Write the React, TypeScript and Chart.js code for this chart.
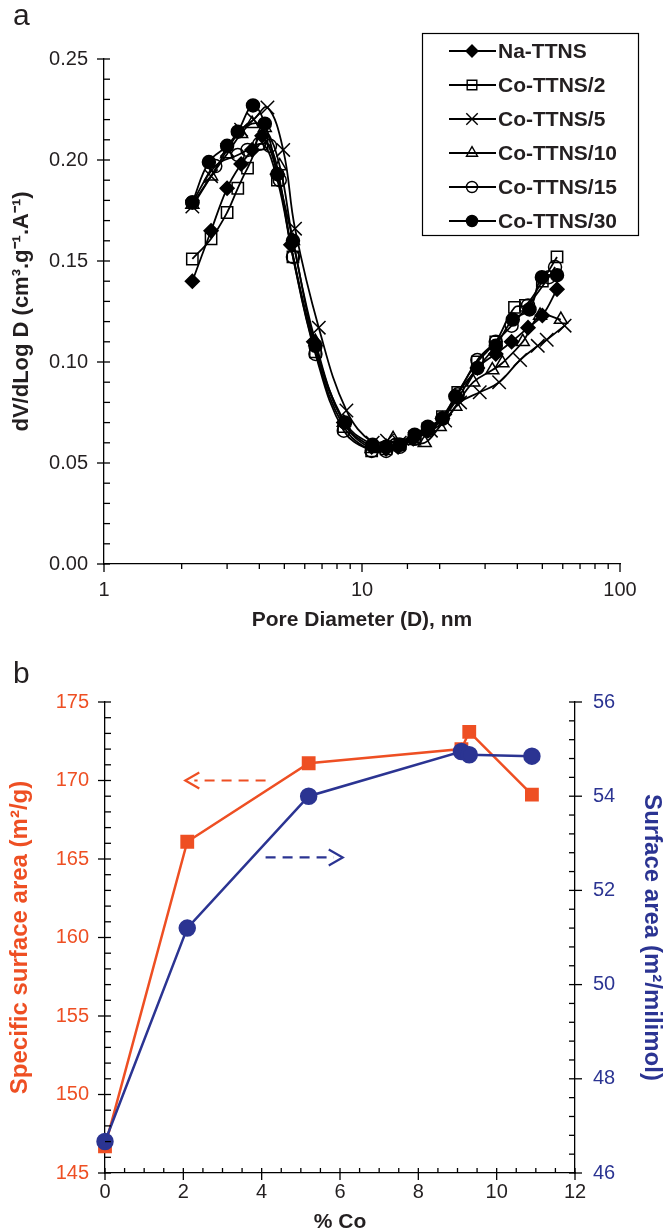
import React, { useEffect, useRef } from 'react';
import { Chart, registerables } from 'chart.js';
Chart.register(...registerables);

const FONT = '"Liberation Sans", Arial, Helvetica, sans-serif';
const INK = '#231f20';
const ORANGE = '#ee4f23';
const BLUE = '#2b3492';

// ---------- Panel a : pore size distribution ----------
const seriesNames = ['Na-TTNS', 'Co-TTNS/2', 'Co-TTNS/5', 'Co-TTNS/10', 'Co-TTNS/15', 'Co-TTNS/30'];

const naTTNS_D = [2.2, 2.6, 3.0, 3.4, 3.75, 4.1, 4.7, 5.3, 6.5, 8.5, 10.9, 12.4, 13.8, 15.8, 18.0, 20.5, 23.5, 28, 33, 38, 44, 50, 57];
const naTTNS_V = [0.140, 0.165, 0.186, 0.198, 0.205, 0.212, 0.193, 0.158, 0.110, 0.070, 0.058, 0.057, 0.058, 0.062, 0.066, 0.072, 0.082, 0.097, 0.104, 0.110, 0.117, 0.123, 0.136];

const co2_D = [2.2, 2.6, 3.0, 3.3, 3.6, 4.1, 4.7, 5.4, 6.6, 8.5, 10.9, 12.4, 14, 16, 18, 20.5, 23.5, 28, 33, 39, 43, 50, 57];
const co2_V = [0.151, 0.161, 0.174, 0.186, 0.196, 0.208, 0.190, 0.152, 0.105, 0.068, 0.056, 0.057, 0.059, 0.063, 0.067, 0.073, 0.085, 0.100, 0.110, 0.127, 0.128, 0.140, 0.152];

const co5_D = [2.2, 2.6, 3.0, 3.4, 3.8, 4.3, 4.95, 5.5, 6.8, 8.7, 11.0, 12.5, 14, 16, 18.5, 21, 24, 28.6, 34, 41, 48, 52, 61];
const co5_V = [0.177, 0.192, 0.205, 0.215, 0.220, 0.226, 0.205, 0.166, 0.117, 0.076, 0.060, 0.061, 0.060, 0.062, 0.066, 0.071, 0.080, 0.085, 0.090, 0.101, 0.108, 0.111, 0.118];

const co10_D = [2.2, 2.6, 3.0, 3.4, 3.75, 4.2, 4.8, 5.4, 6.6, 8.5, 10.9, 12.4, 13.2, 15.7, 17.5, 20, 23, 27, 32, 35, 42, 49, 59];
const co10_V = [0.178, 0.192, 0.203, 0.213, 0.218, 0.216, 0.197, 0.160, 0.110, 0.070, 0.057, 0.058, 0.062, 0.061, 0.060, 0.068, 0.078, 0.090, 0.096, 0.0995, 0.110, 0.123, 0.121];

const co15_D = [2.2, 2.7, 3.3, 3.6, 4.0, 4.4, 4.8, 5.4, 6.6, 8.5, 10.9, 12.4, 14, 16, 18, 20.5, 23.5, 28, 33, 38, 44, 53, 56];
const co15_V = [0.179, 0.197, 0.2025, 0.205, 0.208, 0.207, 0.190, 0.152, 0.104, 0.066, 0.056, 0.056, 0.058, 0.062, 0.066, 0.072, 0.084, 0.101, 0.110, 0.118, 0.128, 0.142, 0.147];

const co30_D = [2.2, 2.55, 3.0, 3.3, 3.78, 4.2, 4.7, 5.4, 6.6, 8.6, 11.0, 12.4, 14, 16, 18, 20.5, 23, 28, 33, 38.4, 44.6, 49.8, 57];
const co30_V = [0.179, 0.199, 0.207, 0.214, 0.227, 0.218, 0.193, 0.160, 0.108, 0.070, 0.059, 0.058, 0.059, 0.064, 0.068, 0.072, 0.083, 0.097, 0.108, 0.121, 0.126, 0.142, 0.143];

const seriesD = [naTTNS_D, co2_D, co5_D, co10_D, co15_D, co30_D];
const seriesV = [naTTNS_V, co2_V, co5_V, co10_V, co15_V, co30_V];

const xTicksA = [1, 10, 100];
const yLabelStepA = 0.05;

// ---------- Panel b : surface area vs % Co ----------
const coPct = [0, 2.1, 5.2, 9.1, 9.3, 10.9];
const specificArea = [146.7, 166.1, 171.1, 172.0, 173.1, 169.1];
const surfacePerMmol = [46.67, 51.2, 54.0, 54.95, 54.88, 54.85];

// dashed arrows: [from x, to x, y value]
const arrowSpecific = [4.1, 2.05, 170];
const arrowMolar = [4.1, 6.07, 52.7];

// ---------- styles ----------
const markerStyles = [
  { pointStyle: 'rectRot', radius: 7, fill: true },
  { pointStyle: 'rect', radius: 8, fill: false },
  { pointStyle: 'crossRot', radius: 9.5, fill: false },
  { pointStyle: 'triangle', radius: 7.5, fill: false },
  { pointStyle: 'circle', radius: 6.5, fill: false },
  { pointStyle: 'circle', radius: 6.5, fill: true },
];

function drawMarker(ctx: CanvasRenderingContext2D, st: any, x: number, y: number, scale = 0.85) {
  const r = st.radius * scale;
  ctx.save();
  ctx.strokeStyle = '#000';
  ctx.fillStyle = '#000';
  ctx.lineWidth = 1.4;
  ctx.beginPath();
  if (st.pointStyle === 'rectRot') {
    ctx.moveTo(x, y - r); ctx.lineTo(x + r, y); ctx.lineTo(x, y + r); ctx.lineTo(x - r, y); ctx.closePath();
  } else if (st.pointStyle === 'rect') {
    const s = r * Math.SQRT1_2;
    ctx.rect(x - s, y - s, 2 * s, 2 * s);
  } else if (st.pointStyle === 'crossRot') {
    const s = r * Math.SQRT1_2;
    ctx.moveTo(x - s, y - s); ctx.lineTo(x + s, y + s);
    ctx.moveTo(x + s, y - s); ctx.lineTo(x - s, y + s);
  } else if (st.pointStyle === 'triangle') {
    ctx.moveTo(x, y - r); ctx.lineTo(x + r * 0.866, y + r * 0.5); ctx.lineTo(x - r * 0.866, y + r * 0.5); ctx.closePath();
  } else {
    ctx.arc(x, y, r, 0, Math.PI * 2);
  }
  if (st.fill) ctx.fill();
  ctx.stroke();
  ctx.restore();
}

type TickCfg = { isMajor: (v: number) => boolean; minIn: number; minOut: number; majIn: number; majOut: number };

function makeTickPlugin(cfg: Record<string, TickCfg>) {
  return {
    id: 'customTicks',
    afterDraw(chart: any) {
      const ctx = chart.ctx as CanvasRenderingContext2D;
      ctx.save();
      ctx.strokeStyle = '#000';
      ctx.lineWidth = 1.3;
      for (const id of Object.keys(cfg)) {
        const s = chart.scales[id];
        const c = cfg[id];
        if (!s) continue;
        for (const t of s.ticks) {
          const major = c.isMajor(t.value);
          const inL = major ? c.majIn : c.minIn;
          const outL = major ? c.majOut : c.minOut;
          const p = s.getPixelForValue(t.value);
          ctx.beginPath();
          if (s.isHorizontal()) {
            const y = s.top;
            ctx.moveTo(p, y + outL);
            ctx.lineTo(p, y - inL);
          } else if (s.position === 'left') {
            const x = s.right;
            ctx.moveTo(x - outL, p);
            ctx.lineTo(x + inL, p);
          } else {
            const x = s.left;
            ctx.moveTo(x + outL, p);
            ctx.lineTo(x - inL, p);
          }
          ctx.stroke();
        }
      }
      ctx.restore();
    },
  };
}

const boxLegendPlugin = {
  id: 'boxLegend',
  afterDraw(chart: any) {
    const ctx = chart.ctx as CanvasRenderingContext2D;
    ctx.save();
    ctx.fillStyle = '#fff';
    ctx.fillRect(422, 33, 216, 202);
    ctx.strokeStyle = '#000';
    ctx.lineWidth = 1.2;
    ctx.strokeRect(422.5, 33.5, 216, 202);
    seriesNames.forEach((name, i) => {
      const y = 51 + i * 34;
      ctx.strokeStyle = '#000';
      ctx.lineWidth = 1.8;
      ctx.beginPath();
      ctx.moveTo(449, y);
      ctx.lineTo(496, y);
      ctx.stroke();
      drawMarker(ctx, markerStyles[i], 472, y);
      ctx.fillStyle = INK;
      ctx.font = `bold 21px ${FONT}`;
      ctx.textBaseline = 'middle';
      ctx.textAlign = 'left';
      ctx.fillText(name, 498, y + 1);
    });
    ctx.restore();
  },
};

const arrowPlugin = {
  id: 'arrows',
  afterDatasetsDraw(chart: any) {
    const ctx = chart.ctx as CanvasRenderingContext2D;
    const xs = chart.scales.x;
    const draw = (a: number[], scaleId: string, color: string) => {
      const ys = chart.scales[scaleId];
      const x1 = xs.getPixelForValue(a[0]);
      const x2 = xs.getPixelForValue(a[1]);
      const y = ys.getPixelForValue(a[2]);
      const dir = Math.sign(x2 - x1);
      ctx.save();
      ctx.strokeStyle = color;
      ctx.lineWidth = 2.2;
      ctx.setLineDash([10, 7]);
      ctx.beginPath();
      ctx.moveTo(x1, y);
      ctx.lineTo(x2 - dir * 9, y);
      ctx.stroke();
      ctx.setLineDash([]);
      ctx.beginPath();
      ctx.moveTo(x2 - dir * 14, y - 8);
      ctx.lineTo(x2, y);
      ctx.lineTo(x2 - dir * 14, y + 8);
      ctx.stroke();
      ctx.restore();
    };
    draw(arrowSpecific, 'yL', ORANGE);
    draw(arrowMolar, 'yR', BLUE);
  },
};

const isPow10 = (v: number) => Math.abs(Math.log10(v) - Math.round(Math.log10(v))) < 1e-9;

function topConfig(): any {
  return {
    type: 'line',
    data: {
      datasets: seriesNames.map((name, i) => ({
        label: name,
        data: seriesD[i].map((d, j) => ({ x: d, y: seriesV[i][j] })),
        borderColor: '#000',
        borderWidth: 1.8,
        pointStyle: markerStyles[i].pointStyle,
        pointRadius: markerStyles[i].radius,
        pointBackgroundColor: markerStyles[i].fill ? '#000' : 'rgba(0,0,0,0)',
        pointBorderColor: '#000',
        pointBorderWidth: 1.5,
        tension: 0.4,
        fill: false,
        clip: false,
      })),
    },
    options: {
      responsive: false,
      animation: false,
      layout: { padding: { top: 59, right: 47, left: 0, bottom: 0 } },
      plugins: { legend: { display: false }, tooltip: { enabled: false } },
      scales: {
        x: {
          type: 'logarithmic',
          min: xTicksA[0],
          max: xTicksA[xTicksA.length - 1],
          afterFit: (s: any) => { s.height = 76; },
          grid: { display: false, drawTicks: false },
          border: { display: true, color: '#000', width: 1.3 },
          ticks: {
            autoSkip: false,
            maxRotation: 0,
            padding: 14,
            color: INK,
            font: { family: FONT, size: 20 },
            callback: (v: any) => (xTicksA.includes(Number(v)) ? String(v) : ''),
          },
          title: {
            display: true,
            text: 'Pore Diameter (D), nm',
            color: INK,
            font: { family: FONT, size: 21, weight: 'bold' },
            padding: { top: 0, bottom: 7 },
          },
        },
        y: {
          type: 'linear',
          min: 0,
          max: 0.25,
          afterFit: (s: any) => { s.width = 104; },
          grid: { display: false, drawTicks: false },
          border: { display: true, color: '#000', width: 1.3 },
          ticks: {
            stepSize: 0.01,
            autoSkip: false,
            padding: 16,
            color: INK,
            font: { family: FONT, size: 20 },
            callback: (v: any) => (Math.round(Number(v) * 100) % Math.round(yLabelStepA * 100) === 0 ? Number(v).toFixed(2) : ''),
          },
          title: {
            display: true,
            text: 'dV/dLog D (cm³.g⁻¹.A⁻¹)',
            color: INK,
            font: { family: FONT, size: 22, weight: 'bold' },
            padding: { top: 9, bottom: 0 },
          },
        },
      },
    },
    plugins: [
      makeTickPlugin({
        x: { isMajor: isPow10, minIn: 0, minOut: 5, majIn: 0, majOut: 8 },
        y: { isMajor: (v) => Math.round(v * 100) % 5 === 0, minIn: 6, minOut: 0, majIn: 6, majOut: 7 },
      }),
      boxLegendPlugin,
    ],
  };
}

function bottomConfig(): any {
  return {
    type: 'line',
    data: {
      datasets: [
        {
          label: 'Surface area (m²/milimol)',
          data: coPct.map((x, i) => ({ x, y: surfacePerMmol[i] })),
          yAxisID: 'yR',
          borderColor: BLUE,
          backgroundColor: BLUE,
          borderWidth: 2.5,
          pointStyle: 'circle',
          pointRadius: 7.5,
          pointBackgroundColor: BLUE,
          pointBorderColor: BLUE,
          tension: 0,
          clip: false,
        },
        {
          label: 'Specific surface area (m²/g)',
          data: coPct.map((x, i) => ({ x, y: specificArea[i] })),
          yAxisID: 'yL',
          borderColor: ORANGE,
          backgroundColor: ORANGE,
          borderWidth: 2.5,
          pointStyle: 'rect',
          pointRadius: 8,
          pointBackgroundColor: ORANGE,
          pointBorderColor: ORANGE,
          tension: 0,
          clip: false,
        },
      ],
    },
    options: {
      responsive: false,
      animation: false,
      layout: { padding: { top: 62, right: 0, left: 0, bottom: 0 } },
      plugins: { legend: { display: false }, tooltip: { enabled: false } },
      scales: {
        x: {
          type: 'linear',
          min: 0,
          max: 12,
          afterFit: (s: any) => { s.height = 67; },
          grid: { display: false, drawTicks: false },
          border: { display: true, color: '#000', width: 1.3 },
          ticks: {
            stepSize: 0.5,
            autoSkip: false,
            maxRotation: 0,
            padding: 7,
            color: INK,
            font: { family: FONT, size: 20 },
            callback: (v: any) => (Math.abs(Number(v) % 2) < 1e-9 ? String(v) : ''),
          },
          title: {
            display: true,
            text: '% Co',
            color: INK,
            font: { family: FONT, size: 21, weight: 'bold' },
            padding: { top: 0, bottom: 5 },
          },
        },
        yL: {
          type: 'linear',
          position: 'left',
          min: 145,
          max: 175,
          afterFit: (s: any) => { s.width = 105; },
          grid: { display: false, drawTicks: false },
          border: { display: true, color: '#000', width: 1.3 },
          ticks: {
            stepSize: 1,
            autoSkip: false,
            padding: 16,
            color: ORANGE,
            font: { family: FONT, size: 20 },
            callback: (v: any) => (Math.round(Number(v)) % 5 === 0 ? String(v) : ''),
          },
          title: {
            display: true,
            text: 'Specific surface area (m²/g)',
            color: ORANGE,
            font: { family: FONT, size: 24, weight: 'bold' },
            padding: { top: 6, bottom: 0 },
          },
        },
        yR: {
          type: 'linear',
          position: 'right',
          min: 46,
          max: 56,
          afterFit: (s: any) => { s.width = 92; },
          grid: { display: false, drawTicks: false },
          border: { display: true, color: '#000', width: 1.3 },
          ticks: {
            stepSize: 0.4,
            autoSkip: false,
            padding: 18,
            color: BLUE,
            font: { family: FONT, size: 20 },
            callback: (v: any) => (Math.round(Number(v) * 10) % 20 === 0 ? String(Math.round(Number(v))) : ''),
          },
          title: {
            display: true,
            text: 'Surface area (m²/milimol)',
            color: BLUE,
            font: { family: FONT, size: 24, weight: 'bold' },
            padding: { top: 1, bottom: 0 },
          },
        },
      },
    },
    plugins: [
      makeTickPlugin({
        x: { isMajor: (v) => Math.abs(v % 2) < 1e-9, minIn: 5, minOut: 0, majIn: 5, majOut: 7 },
        yL: { isMajor: (v) => Math.round(v) % 5 === 0 && Math.abs(v - Math.round(v)) < 1e-9, minIn: 6, minOut: 0, majIn: 6, majOut: 7 },
        yR: { isMajor: (v) => Math.round(v * 10) % 20 === 0, minIn: 6, minOut: 0, majIn: 6, majOut: 7 },
      }),
      arrowPlugin,
    ],
  };
}

export default function App() {
  const topRef = useRef<HTMLCanvasElement>(null);
  const botRef = useRef<HTMLCanvasElement>(null);
  useEffect(() => {
    const c1 = new Chart(topRef.current as HTMLCanvasElement, topConfig());
    const c2 = new Chart(botRef.current as HTMLCanvasElement, bottomConfig());
    return () => {
      c1.destroy();
      c2.destroy();
    };
  }, []);
  return (
    <div style={{ position: 'absolute', left: 0, top: 0, width: 667, height: 1230, overflow: 'hidden', background: '#fff' }}>
      <canvas ref={topRef} width={667} height={640} style={{ position: 'absolute', left: 0, top: 0 }} />
      <canvas ref={botRef} width={667} height={600} style={{ position: 'absolute', left: 0, top: 640 }} />
      <div style={{ position: 'absolute', left: 13, top: -2, font: `30px ${FONT}`, color: INK }}>a</div>
      <div style={{ position: 'absolute', left: 13, top: 656, font: `30px ${FONT}`, color: INK }}>b</div>
    </div>
  );
}
